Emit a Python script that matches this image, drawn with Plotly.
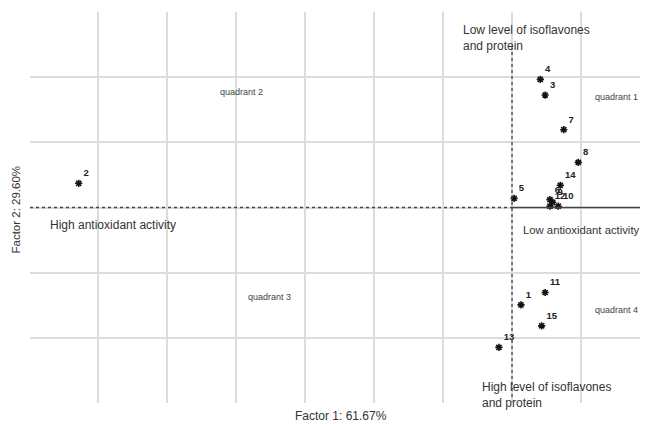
import plotly.graph_objects as go

# Sample scores (Factor 1, Factor 2)
labels = ["1", "2", "3", "4", "5", "6", "7", "8", "9", "10", "11", "12", "13", "14", "15"]
factor1 = [0.13, -6.28, 0.48, 0.41, 0.03, 0.55, 0.75, 0.96, 0.59, 0.67, 0.48, 0.55, -0.19, 0.70, 0.43]
factor2 = [-1.49, 0.37, 1.72, 1.96, 0.14, 0.12, 1.19, 0.69, 0.08, 0.02, -1.30, 0.02, -2.14, 0.34, -1.81]

x_ticks = [-6, -5, -4, -3, -2, -1, 0, 1]
y_ticks = [-2, -1, 0, 1, 2]

x_title = "Factor 1: 61.67%"
y_title = "Factor 2: 29.60%"

XR = [-6.986, 1.971]
YR = [-2.99, 2.99]

# page body has an 8px margin; figure is sized so the plot lands where the reference has it
OFF = 8
L, T = 30 - OFF, 12 - OFF
PW, PH = 618, 391

fig = go.Figure()
fig.add_trace(go.Scatter(
    x=factor1, y=factor2, mode="markers+text", text=labels,
    texttemplate="<b>%{text}</b>",
    textposition="top right",
    textfont=dict(family="Liberation Sans, Arial", size=9.5, color="#222"),
    marker=dict(symbol="asterisk-open", size=6, color="#111",
                line=dict(color="#111", width=1.6)),
    hoverinfo="skip", showlegend=False, cliponaxis=False,
))

dark = "#444"
fig.add_shape(type="line", x0=XR[0], x1=0, y0=0, y1=0,
              line=dict(color=dark, width=1.3, dash="dot"), layer="above")
fig.add_shape(type="line", x0=0, x1=XR[1], y0=0, y1=0,
              line=dict(color=dark, width=1.4), layer="above")
fig.add_shape(type="line", x0=0, x1=0, y0=-2.9, y1=2.45,
              line=dict(color=dark, width=1.3, dash="dot"), layer="above")

ann_font = dict(family="Liberation Sans, Arial", size=12, color="#333")
ann_font_r = dict(family="Liberation Sans, Arial", size=11.3, color="#333")
small_font = dict(family="Liberation Sans, Arial", size=9, color="#444")

annotations = [
    dict(x=-0.74, y=2.59, text="Low level of isoflavones<br>and protein", font=ann_font),
    dict(x=-0.46, y=-2.87, text="High level of isoflavones<br>and protein", font=ann_font),
    dict(x=-6.72, y=-0.26, text="High antioxidant activity", font=ann_font),
    dict(x=0.13, y=-0.35, text="Low antioxidant activity", font=ann_font_r),
    dict(x=1.17, y=1.69, text="quadrant 1", font=small_font),
    dict(x=-4.26, y=1.77, text="quadrant 2", font=small_font),
    dict(x=-3.85, y=-1.37, text="quadrant 3", font=small_font),
    dict(x=1.18, y=-1.57, text="quadrant 4", font=small_font),
]
for a in annotations:
    fig.add_annotation(xref="x", yref="y", xanchor="left", yanchor="middle",
                       showarrow=False, align="left", **a)

# axis titles
fig.add_annotation(xref="paper", yref="paper", x=(341 - 30) / PW, y=-13 / PH,
                   text=x_title, showarrow=False, xanchor="center", yanchor="middle",
                   font=dict(family="Liberation Sans, Arial", size=12, color="#333"))
fig.add_annotation(xref="paper", yref="paper", x=-14.5 / PW, y=(403 - 210) / PH,
                   text=y_title, textangle=-90, showarrow=False, xanchor="center",
                   yanchor="middle", borderpad=0,
                   font=dict(family="Liberation Sans, Arial", size=11.5, color="#333"))

fig.update_layout(
    width=L + PW, height=T + PH + 21,
    margin=dict(l=L, r=0, t=T, b=21, autoexpand=False),
    plot_bgcolor="white", paper_bgcolor="white",
    font=dict(family="Liberation Sans, Arial", size=11, color="#333"),
    xaxis=dict(range=XR, tickvals=x_ticks, showticklabels=False, showgrid=True,
               gridcolor="#dcdcdc", gridwidth=2, zeroline=False, showline=False,
               automargin=False),
    yaxis=dict(range=YR, tickvals=y_ticks, showticklabels=False, showgrid=True,
               gridcolor="#dcdcdc", gridwidth=2, zeroline=False, showline=False,
               automargin=False),
)

fig.write_html("out.html")
